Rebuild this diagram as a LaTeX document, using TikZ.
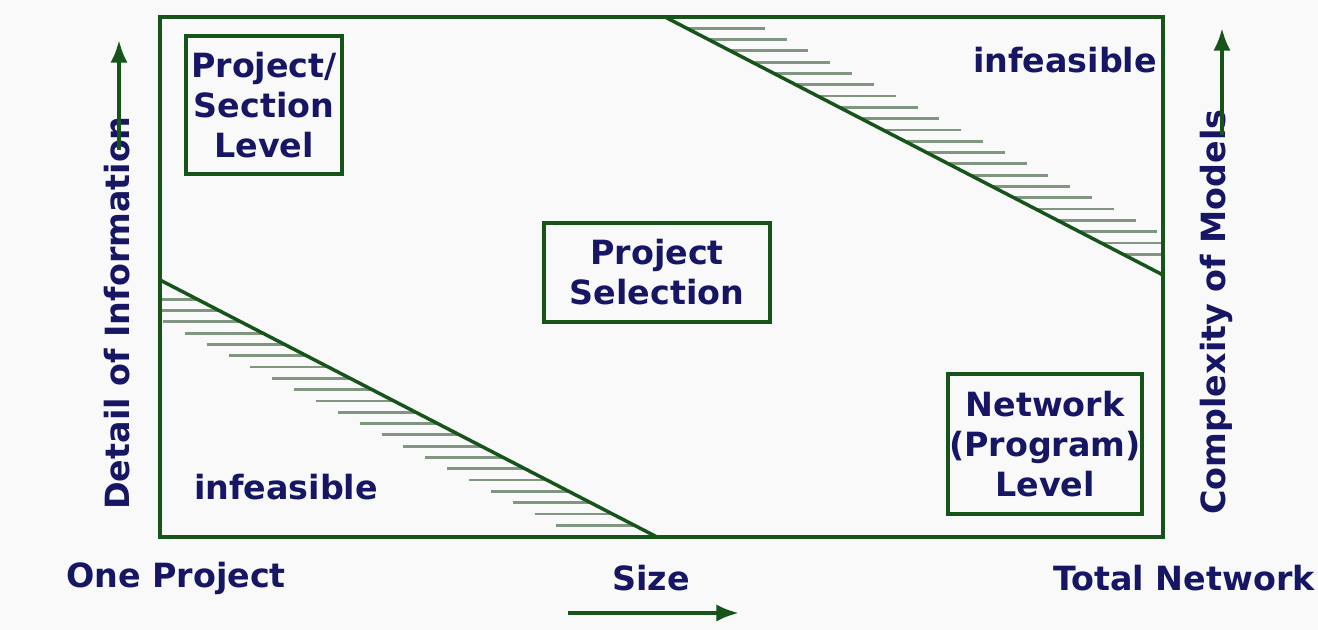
\documentclass[tikz,border=0pt]{standalone}
\usepackage{fontspec}
\setmainfont{DejaVu Sans}
\usetikzlibrary{arrows.meta}
\definecolor{lgreen}{RGB}{22,84,26}
\definecolor{hatchc}{RGB}{128,150,128}
\definecolor{navy}{RGB}{22,22,100}
\definecolor{bgc}{RGB}{248,249,248}
\tikzset{
  lbl/.style={text=navy,font=\fontsize{25}{30}\selectfont\bfseries,inner sep=0pt,align=center},
  boxn/.style={draw=lgreen,line width=2.6pt,inner sep=0pt,align=center,text=navy,font=\fontsize{25}{30}\selectfont\bfseries},
  frame/.style={draw=lgreen,line width=2.6pt},
  diag/.style={draw=lgreen,line width=2.6pt},
  hatch/.style={draw=hatchc,line width=2.1pt},
  axarrow/.style={draw=lgreen,line width=3pt,-{Latex[length=17pt,width=13pt]}}
}
\begin{document}
\begin{tikzpicture}[x=0.75pt,y=-0.75pt]
\fill[bgc] (0,0) rectangle (1318,630);
\useasboundingbox (0,0) rectangle (1318,630);
% hatching (upper right)
\foreach \i in {0,...,20}{
  \pgfmathsetmacro{\yy}{28.3+11.3*\i}
  \pgfmathsetmacro{\xd}{665+(\yy-17)/258*498}
  \pgfmathsetmacro{\xe}{min(\xd+78,1163)}
  \draw[hatch] (\xd,\yy) -- (\xe,\yy);
}
% hatching (lower left)
\foreach \i in {0,...,20}{
  \pgfmathsetmacro{\yy}{299.3+11.3*\i}
  \pgfmathsetmacro{\xd}{160+(\yy-280)/257*497}
  \pgfmathsetmacro{\xs}{max(\xd-78,160)}
  \draw[hatch] (\xs,\yy) -- (\xd,\yy);
}
% frame
\coordinate (fTL) at (160,17);
\coordinate (fBR) at (1163,537);
\draw[frame] (fTL) rectangle (fBR);
% diagonals
\coordinate (uA) at (665,17);
\coordinate (uB) at (1163,275);
\coordinate (lA) at (160,280);
\coordinate (lB) at (657,537);
\draw[diag] (uA) -- (uB);
\draw[diag] (lA) -- (lB);
% boxes
\node[boxn,minimum width=156*0.75pt,minimum height=138*0.75pt] (psl) at (264,105) {Project/\\Section\\Level};
\node[boxn,minimum width=226*0.75pt,minimum height=99*0.75pt] (ps) at (657,272.5) {Project\\Selection};
\node[boxn,minimum width=194*0.75pt,minimum height=140*0.75pt] (npl) at (1045,444) {Network\\(Program)\\Level};
% infeasible labels
\node[lbl] (inf1) at (1065,60) {infeasible};
\node[lbl] (inf2) at (286,487) {infeasible};
% bottom labels
\node[lbl] (one) at (176,578) {One Project};
\node[lbl] (size) at (651,578) {Size};
\node[lbl] (tot) at (1184,578) {Total Network};
% axes labels
\node[lbl,rotate=90] (det) at (117,313) {Detail of Information};
\node[lbl,rotate=90] (cpx) at (1216,312) {Complexity of Models};
% arrows
\coordinate (la0) at (119,150);
\coordinate (la1) at (119,40);
\draw[axarrow] (la0) -- (la1);
\coordinate (ra0) at (1222,135);
\coordinate (ra1) at (1222,28);
\draw[axarrow] (ra0) -- (ra1);
\coordinate (ba0) at (568,613);
\coordinate (ba1) at (739,613);
\draw[axarrow] (ba0) -- (ba1);
\end{tikzpicture}
\end{document}
